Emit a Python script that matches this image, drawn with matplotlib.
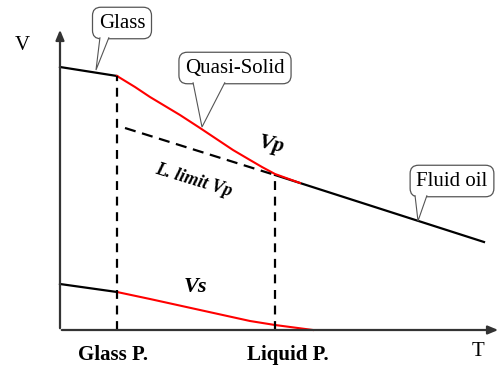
import matplotlib.pyplot as plt
from matplotlib.patches import Polygon

# Data (T, V in arbitrary units) --------------------------------
glass_vp_t = [0, 57]
glass_vp_v = [263, 254]
quasi_vp_t = [57, 75, 90, 105, 120, 140, 155, 173, 190, 202, 215, 240]
quasi_vp_v = [254, 243, 233, 224, 215, 202, 192, 180, 170, 163, 156, 147]
fluid_vp_t = [215, 424]
fluid_vp_v = [155, 88]
limit_vp_t = [65, 215]
limit_vp_v = [202, 155]
glass_vs_t = [0, 57]
glass_vs_v = [46, 38]
quasi_vs_t = [57, 90, 140, 190, 215, 253]
quasi_vs_v = [38, 31, 20, 9, 5, 0]
glass_point = 57
liquid_point = 215
# ----------------------------------------------------------------

plt.rcParams['font.family'] = ['Liberation Serif', 'DejaVu Serif']

fig = plt.figure(figsize=(5.01, 3.67), dpi=100)
ax = fig.add_axes([0, 0, 1, 1])
ax.set_xlim(-60, 441)
ax.set_ylim(-37, 330)
ax.axis('off')

# axes with arrows
ax.annotate('', xy=(0, 303), xytext=(0, -1),
            arrowprops=dict(arrowstyle='-|>,head_length=0.6,head_width=0.25', color='#333333', lw=1.6))
ax.annotate('', xy=(441, 0), xytext=(-1, 0),
            arrowprops=dict(arrowstyle='-|>,head_length=0.6,head_width=0.25', color='#333333', lw=1.6))

# Vp
ax.plot(glass_vp_t, glass_vp_v, color='black', lw=1.6)
ax.plot(fluid_vp_t, fluid_vp_v, color='black', lw=1.6)
ax.plot(quasi_vp_t, quasi_vp_v, color='red', lw=1.5)
ax.plot(limit_vp_t, limit_vp_v, color='black', lw=1.6, linestyle=(0, (5, 3)))

# Vs
ax.plot(glass_vs_t, glass_vs_v, color='black', lw=1.6)
ax.plot(quasi_vs_t, quasi_vs_v, color='red', lw=1.5)

# transition points
ax.plot([glass_point, glass_point], [0, glass_vp_v[-1]], color='black', lw=1.6, linestyle=(0, (4, 3)))
ax.plot([liquid_point, liquid_point], [0, fluid_vp_v[0]], color='black', lw=1.6, linestyle=(0, (4, 3)))

# axis labels
ax.text(-38, 285, 'V', fontsize=15, ha='center', va='center')
ax.text(418, -22, 'T', fontsize=15, ha='center', va='center')
ax.text(53, -25, 'Glass P.', fontsize=15, fontweight='bold', ha='center', va='center')
ax.text(228, -25, 'Liquid P.', fontsize=15, fontweight='bold', ha='center', va='center')

# curve labels
ax.text(211, 185, 'Vp', fontsize=16, fontweight='bold', style='italic',
        ha='center', va='center', rotation=-12)
ax.text(134, 150, 'L. limit Vp', fontsize=13, fontweight='bold', style='italic',
        ha='center', va='center', rotation=-17)
ax.text(135, 43, 'Vs', fontsize=16, fontweight='bold', style='italic', ha='center', va='center')

# callouts: rounded box plus a pointer wedge
box = dict(boxstyle='round,pad=0.3,rounding_size=0.4', fc='white', ec='#555555', lw=0.9)


def callout(label, center, tip, base):
    t = ax.text(center[0], center[1], label, fontsize=15, ha='center', va='center',
                bbox=box, zorder=2)
    fig.canvas.draw()
    ext = t.get_bbox_patch().get_window_extent()
    bottom = ax.transData.inverted().transform((ext.x0, ext.y0))[1]
    verts = [(base[0], bottom + 1.5), tip, (base[1], bottom + 1.5)]
    ax.add_patch(Polygon(verts, closed=False, fc='white', ec='#555555', lw=0.8, zorder=3))


callout('Glass', (62, 307), (36, 260), (40, 49))
callout('Quasi-Solid', (175, 262), (142, 203), (133, 165))
callout('Fluid oil', (392, 149), (358, 109), (355, 367))

fig.savefig('out.png', dpi=100)
